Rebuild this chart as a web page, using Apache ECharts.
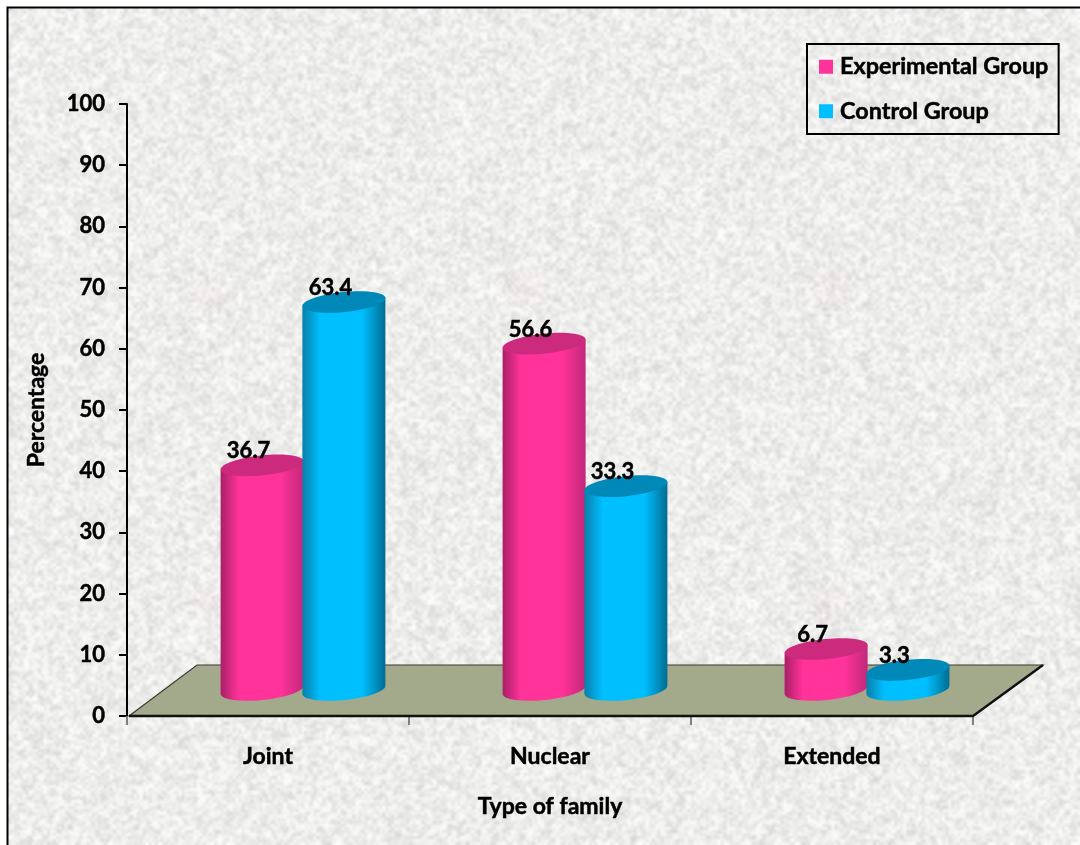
<!DOCTYPE html>
<html>
<head>
<meta charset="utf-8">
<style>html,body{margin:0;padding:0;background:#fff}#chart{width:1080px;height:845px}</style>
<script src="https://cdn.jsdelivr.net/npm/echarts@6/dist/echarts.min.js"></script>
</head>
<body>
<div id="chart"></div>
<script>
const categories = ['Joint', 'Nuclear', 'Extended'];
const experimental = [36.7, 56.6, 6.7];
const control = [63.4, 33.3, 3.3];
const yTicks = { min: 0, max: 100, interval: 10 };

const FONT = 'Lato, "Open Sans", sans-serif';
const BOX = { left: 127, top: 104, width: 846, height: 612 };
// Perspective shift of the bars towards the back of the floor.
const DEPTH_X = 35, DEPTH_Y = 26;
const TILT = 6;
const FLOOR_DX = 70, FLOOR_DY = 51;
// Thin outline that thickens the bold text a little.
const HEAVY = { textBorderColor: '#000', textBorderWidth: 0.5 };

// Mottled paper backdrop: coarse grain layers scaled up with smoothing.
function paper(w, h) {
  const c = document.createElement('canvas');
  c.width = w; c.height = h;
  const g = c.getContext('2d');
  let s = 20231;
  const r = () => (s = (s * 16807) % 2147483647) / 2147483647;
  g.fillStyle = '#eeeeeb';
  g.fillRect(0, 0, w, h);
  g.imageSmoothingEnabled = true;
  g.imageSmoothingQuality = 'high';
  [[3, 0.6, 44], [5, 0.4, 36]].forEach(([step, alpha, amp]) => {
    const t = document.createElement('canvas');
    t.width = Math.ceil(w / step); t.height = Math.ceil(h / step);
    const tg = t.getContext('2d');
    const img = tg.createImageData(t.width, t.height);
    for (let i = 0; i < img.data.length; i += 4) {
      const v = 238 + (r() - 0.5) * amp * 1.6;
      img.data[i] = v; img.data[i + 1] = v; img.data[i + 2] = v - 2; img.data[i + 3] = 255;
    }
    tg.putImageData(img, 0, 0);
    g.globalAlpha = alpha;
    g.drawImage(t, 0, 0, w, h);
  });
  g.globalAlpha = 1;
  [[202, 287], [517, 280], [822, 280], [202, 592], [822, 597]].forEach(([x, y]) => {
    const rg = g.createRadialGradient(x, y, 2, x, y, 26);
    rg.addColorStop(0, 'rgba(240,200,205,0.14)');
    rg.addColorStop(1, 'rgba(240,200,205,0)');
    g.fillStyle = rg;
    g.fillRect(x - 26, y - 26, 52, 52);
  });
  return c;
}

function floorItem(params, api) {
  const cs = params.coordSys;
  const yBase = api.coord([0, 0])[1];
  const xL = cs.x + 2, xR = cs.x + cs.width;
  const yBack = yBase - FLOOR_DY;
  return {
    type: 'group',
    children: [
      { type: 'polygon',
        shape: { points: [[xL, yBase], [xL + FLOOR_DX - 2, yBack], [xR + FLOOR_DX, yBack], [xR, yBase]] },
        style: { fill: '#a3aa8c', stroke: '#3a3a30', lineWidth: 1.2 } },
      { type: 'polyline',
        shape: { points: [[xL, yBase], [xR, yBase], [xR + FLOOR_DX, yBack]] },
        style: { fill: 'none', stroke: '#111', lineWidth: 2.4 } }
    ]
  };
}

function cylinderItem(side, body, topFill) {
  return function (params, api) {
    const v = api.value(1);
    const band = api.size([1, 0])[0];
    const rx = band * 0.148;
    const ry = 10;
    const [cx0, yTop0] = api.coord([api.value(0), v]);
    const yBot0 = api.coord([api.value(0), 0])[1];
    const cx = cx0 + DEPTH_X + side * band * 0.145;
    const yTop = yTop0 - DEPTH_Y, yBot = yBot0 - DEPTH_Y;
    const a = TILT * Math.PI / 180;
    const ex = rx * Math.cos(a), ey = rx * Math.sin(a);
    const path = 'M' + (cx - ex) + ' ' + (yTop + ey) + ' L' + (cx - ex) + ' ' + (yBot + ey) +
      ' A' + rx + ' ' + ry + ' ' + (-TILT) + ' 0 0 ' + (cx + ex) + ' ' + (yBot - ey) +
      ' L' + (cx + ex) + ' ' + (yTop - ey) + ' Z';
    return {
      type: 'group',
      children: [
        { type: 'path',
          shape: { pathData: path },
          style: { fill: body } },
        { type: 'ellipse',
          shape: { cx: cx, cy: yTop, rx: rx, ry: ry },
          rotation: TILT * Math.PI / 180, originX: cx, originY: yTop,
          style: { fill: topFill } },
        { type: 'text',
          style: { text: v.toFixed(1), x: cx - 13.5, y: yTop - 14, align: 'center', verticalAlign: 'middle',
                   font: 'bold 22px ' + FONT, fill: '#000', stroke: '#000', lineWidth: 0.5 } }
      ]
    };
  };
}

function sideGradient(edgeL, mid, edgeR) {
  return { type: 'linear', x: 0, y: 0, x2: 1, y2: 0,
    colorStops: [{ offset: 0, color: edgeL }, { offset: 0.22, color: mid },
                 { offset: 0.72, color: mid }, { offset: 1, color: edgeR }] };
}

const chart = echarts.init(document.getElementById('chart'), null, { renderer: 'canvas' });
chart.setOption({
  animation: false,
  backgroundColor: '#fff',
  graphic: [
    { type: 'image', z: -10, silent: true,
      style: { image: paper(1072, 837), x: 8, y: 8, width: 1072, height: 837 } },
    { type: 'polyline', z: -9, silent: true,
      shape: { points: [[7.5, 846], [7.5, 7.5], [1081, 7.5]] },
      style: { fill: 'none', stroke: '#000', lineWidth: 2 } }
  ],
  grid: BOX,
  legend: {
    left: 807, top: 44, orient: 'vertical',
    data: ['Experimental Group', 'Control Group'],
    icon: 'rect', itemWidth: 14, itemHeight: 14, itemGap: 21,
    padding: [11, 10, 11, 12],
    backgroundColor: 'transparent',
    borderColor: '#000', borderWidth: 2,
    textStyle: Object.assign({ fontFamily: FONT, fontWeight: 'bold', fontSize: 23.4, color: '#000', padding: [0, 0, 0, 2] }, HEAVY)
  },
  xAxis: {
    type: 'category',
    data: categories,
    name: 'Type of family',
    nameLocation: 'middle',
    nameGap: 79,
    nameTextStyle: Object.assign({ fontFamily: FONT, fontWeight: 'bold', fontSize: 23, color: '#000' }, HEAVY),
    axisLine: { show: false },
    axisTick: { show: true, alignWithLabel: false, length: 9, lineStyle: { color: '#808080', width: 2 } },
    axisLabel: Object.assign({ margin: 29, fontFamily: FONT, fontWeight: 'bold', fontSize: 23, color: '#000' }, HEAVY),
    splitLine: { show: false }
  },
  yAxis: {
    type: 'value',
    min: yTicks.min, max: yTicks.max, interval: yTicks.interval,
    name: 'Percentage',
    nameLocation: 'middle',
    nameGap: 79,
    nameTextStyle: Object.assign({ fontFamily: FONT, fontWeight: 'bold', fontSize: 23, color: '#000' }, HEAVY),
    axisLine: { show: true, lineStyle: { color: '#000', width: 2 } },
    axisTick: { show: true, length: 8, lineStyle: { color: '#000', width: 2 } },
    axisLabel: Object.assign({ margin: 22, fontFamily: FONT, fontWeight: 'bold', fontSize: 22, color: '#000' }, HEAVY),
    splitLine: { show: false }
  },
  series: [
    { type: 'custom', name: 'floor', z: 1, silent: true,
      data: [[0, 0]], encode: { x: 0, y: 1 }, renderItem: floorItem },
    { type: 'custom', name: 'Experimental Group', z: 2, legendIcon: 'rect',
      itemStyle: { color: '#ff3399' },
      data: experimental.map((v, i) => [i, v]), encode: { x: 0, y: 1 },
      renderItem: cylinderItem(-1, sideGradient('#a81f66', '#ff3399', '#c0287a'), '#cc2a7c') },
    { type: 'custom', name: 'Control Group', z: 3, legendIcon: 'rect',
      itemStyle: { color: '#00bfff' },
      data: control.map((v, i) => [i, v]), encode: { x: 0, y: 1 },
      renderItem: cylinderItem(1, sideGradient('#0a7ea8', '#00bfff', '#006c90'), '#0088b8') }
  ]
});
</script>
</body>
</html>
